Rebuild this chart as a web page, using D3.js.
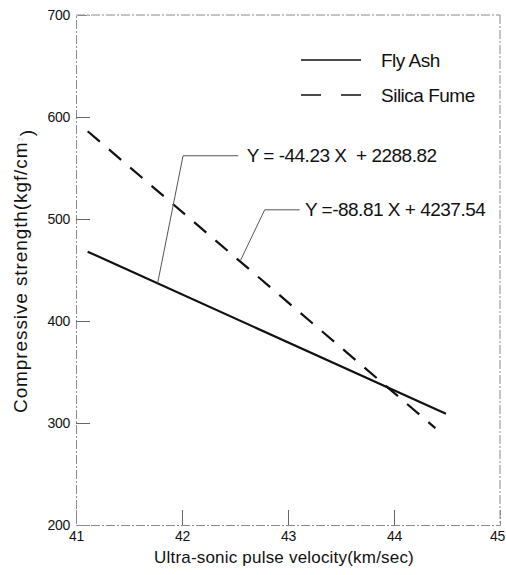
<!DOCTYPE html>
<html>
<head>
<meta charset="utf-8">
<script src="https://cdn.jsdelivr.net/npm/d3@7"></script>
<style>
  html, body { margin: 0; padding: 0; background: #fff; }
  svg { display: block; font-family: "Liberation Sans", Arial, sans-serif; }
</style>
</head>
<body>
<svg id="chart" width="506" height="575"></svg>
<script>
// ---- data ----
const seriesNames = ["Fly Ash", "Silica Fume"];
const flyAshX = [41.11, 44.49];
const flyAshY = [468, 309];
const silicaX = [41.11, 44.39];
const silicaY = [586, 295];
const xTicks = [41, 42, 43, 44, 45];
const yTicks = [200, 300, 400, 500, 600, 700];
const equations = ["Y = -44.23 X  + 2288.82", "Y =-88.81 X + 4237.54"];
// leader lines: [end on line, bend, horizontal end] in data units
const leader1 = [[41.77, 437], [42.01, 562], [42.53, 562]];
const leader2 = [[42.55, 459], [42.78, 509], [43.11, 509]];
const eqPos = [[42.61, 562], [43.16, 509]];

const svg = d3.select("#chart");
const x = d3.scaleLinear().domain([41, 45]).range([76, 500]);
const y = d3.scaleLinear().domain([200, 700]).range([525, 15]);

// frame
const frameColor = "#8a8a8a";
const frame = svg.append("g");
frame.append("line").attr("x1", x(41)).attr("x2", x(45)).attr("y1", y(700)).attr("y2", y(700))
  .attr("stroke", frameColor).attr("stroke-dasharray", "9,2,2,2");
frame.append("line").attr("x1", x(45)).attr("x2", x(45)).attr("y1", y(700)).attr("y2", y(200))
  .attr("stroke", frameColor).attr("stroke-dasharray", "9,2,2,2");

// axes
const yAxis = d3.axisLeft(y).tickValues(yTicks).tickSize(-14).tickPadding(6).tickFormat(d3.format("d"));
const xAxis = d3.axisBottom(x).tickValues(xTicks).tickSize(-15).tickPadding(6).tickFormat(d3.format("d"));

const gy = svg.append("g").attr("transform", `translate(${x(41)},0)`).call(yAxis);
const gx = svg.append("g").attr("transform", `translate(0,${y(200)})`).call(xAxis);
[gy, gx].forEach(g => {
  g.select(".domain").attr("stroke", frameColor).attr("stroke-dasharray", "9,2,2,2");
  g.selectAll(".tick line").attr("stroke", "#666");
  g.selectAll(".tick text").attr("fill", "#111").style("font-size", "14px")
    .style("font-family", "'Liberation Sans', Arial, sans-serif").style("letter-spacing", "-0.3px");
});
gy.selectAll(".tick").filter(d => d === 700 || d === 200).select("line").remove();
gx.selectAll(".tick").filter(d => d === 41 || d === 45).select("line").remove();
gx.selectAll(".tick").filter(d => d === 45).select("text").attr("dx", "-3");

// series lines
const line = d3.line().x(d => x(d[0])).y(d => y(d[1]));
const fly = flyAshX.map((v, i) => [v, flyAshY[i]]);
const sil = silicaX.map((v, i) => [v, silicaY[i]]);
svg.append("path").datum(fly).attr("d", line).attr("fill", "none")
  .attr("stroke", "#111").attr("stroke-width", 2.2);
svg.append("path").datum(sil).attr("d", line).attr("fill", "none")
  .attr("stroke", "#111").attr("stroke-width", 2.2).attr("stroke-dasharray", "16,12");

// leader lines
[leader1, leader2].forEach(l => {
  svg.append("path").datum(l).attr("d", line).attr("fill", "none")
    .attr("stroke", "#555").attr("stroke-width", 1);
});
equations.forEach((t, i) => {
  svg.append("text").attr("x", x(eqPos[i][0])).attr("y", y(eqPos[i][1]))
    .attr("dy", "0.35em").attr("fill", "#111")
    .style("font-size", "19px").style("letter-spacing", "-0.5px").style("white-space", "pre").text(t);
});

// legend
const legend = svg.append("g");
const legY = [60, 95];
legend.append("line").attr("x1", 301).attr("x2", 361).attr("y1", legY[0]).attr("y2", legY[0])
  .attr("stroke", "#111").attr("stroke-width", 1.5);
legend.append("line").attr("x1", 301).attr("x2", 361).attr("y1", legY[1]).attr("y2", legY[1])
  .attr("stroke", "#111").attr("stroke-width", 1.5).attr("stroke-dasharray", "20,20");
seriesNames.forEach((n, i) => {
  legend.append("text").attr("x", 381).attr("y", legY[i]).attr("dy", "0.35em")
    .attr("fill", "#111").style("font-size", "19px").style("letter-spacing", "-0.5px").text(n);
});

// axis titles
svg.append("text").attr("x", 284).attr("y", 563).attr("text-anchor", "middle")
  .attr("fill", "#111").style("font-size", "17px").style("letter-spacing", "0.2px")
  .text("Ultra-sonic pulse velocity(km/sec)");
const yt = svg.append("text").attr("transform", "translate(27,271) rotate(-90)")
  .attr("text-anchor", "middle").attr("fill", "#111").style("font-size", "19px")
  .style("letter-spacing", "0.9px");
yt.append("tspan").text("Compressive strength(kgf/cm");
yt.append("tspan").attr("dy", "-0.5em").style("font-size", "8px").attr("fill", "#ccc").text("2");
yt.append("tspan").attr("dy", "0.5em").text(")");
</script>
</body>
</html>
